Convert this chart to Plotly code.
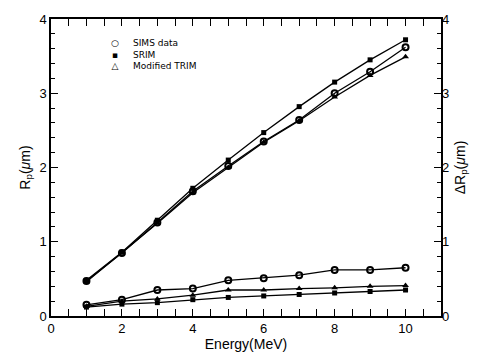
import plotly.graph_objects as go

energy = [1, 2, 3, 4, 5, 6, 7, 8, 9, 10]

# Projected range Rp (um)
rp_sims = [0.47, 0.85, 1.26, 1.68, 2.02, 2.35, 2.64, 3.00, 3.29, 3.62]
rp_srim = [0.48, 0.86, 1.29, 1.72, 2.10, 2.47, 2.82, 3.15, 3.45, 3.72]
rp_trim = [0.46, 0.85, 1.25, 1.66, 2.00, 2.34, 2.63, 2.95, 3.24, 3.49]

# Range straggling dRp (um)
drp_sims = [0.15, 0.22, 0.35, 0.37, 0.48, 0.51, 0.55, 0.62, 0.62, 0.65]
drp_srim = [0.12, 0.16, 0.18, 0.22, 0.25, 0.27, 0.29, 0.31, 0.33, 0.35]
drp_trim = [0.13, 0.20, 0.23, 0.28, 0.35, 0.35, 0.37, 0.38, 0.40, 0.41]

legend_names = ["SIMS data", "SRIM", "Modified TRIM"]
legend_symbols = ["○", "▪", "△"]

fig = go.Figure()
line = dict(color="black", width=1.3)
mk_c = dict(symbol="circle-open", size=6, color="black", line=dict(width=2, color="black"))
mk_s = dict(symbol="square", size=5, color="black")
mk_t = dict(symbol="triangle-up", size=6, color="black")

for ys, mk in [(rp_srim, mk_s), (rp_sims, mk_c), (rp_trim, mk_t)]:
    fig.add_trace(go.Scatter(x=energy, y=ys, mode="lines+markers", line=line,
                             marker=mk, showlegend=False, yaxis="y"))
for ys, mk in [(drp_sims, mk_c), (drp_trim, mk_t), (drp_srim, mk_s)]:
    fig.add_trace(go.Scatter(x=energy, y=ys, mode="lines+markers", line=line,
                             marker=mk, showlegend=False, yaxis="y2"))

# Legend drawn as two text blocks in paper coordinates
leg_font = dict(size=9, family="DejaVu Sans", color="black")
fig.add_annotation(xref="paper", yref="paper", x=0.164, y=0.879,
                   text="<br>".join(legend_symbols), showarrow=False,
                   xanchor="center", yanchor="middle", align="center",
                   borderpad=0, font=leg_font)
fig.add_annotation(xref="paper", yref="paper", x=0.207, y=0.879,
                   text="<br>".join(legend_names), showarrow=False,
                   xanchor="left", yanchor="middle", align="left",
                   borderpad=0, font=leg_font)

font = dict(family="Liberation Sans, Arial, sans-serif", color="black", size=13)
fig.update_layout(
    width=485, height=362,
    margin=dict(l=51, r=44, t=14, b=42),
    paper_bgcolor="white", plot_bgcolor="white",
    font=font,
    showlegend=False,
    xaxis=dict(range=[0, 11], tickvals=[0, 2, 4, 6, 8, 10], ticks="inside", ticklen=7,
               tickwidth=1.2, tickcolor="black", showline=True, linecolor="black", linewidth=1.5,
               mirror="allticks", showgrid=False, zeroline=False,
               minor=dict(dtick=0.5, ticks="inside", ticklen=4, tickcolor="black", showgrid=False),
               title=dict(text="Energy(MeV)", font=dict(size=14), standoff=4)),
    yaxis=dict(range=[0, 4], tickvals=[0, 1, 2, 3, 4], ticks="inside", ticklen=7,
               tickwidth=1.2, tickcolor="black", showline=True, linecolor="black", linewidth=1.5,
               mirror=True, showgrid=False, zeroline=False,
               minor=dict(dtick=0.2, ticks="inside", ticklen=4, tickcolor="black", showgrid=False),
               title=dict(text="R<sub>p</sub>(<i>μ</i>m)", font=dict(size=14), standoff=6)),
    yaxis2=dict(range=[0, 4], tickvals=[0, 1, 2, 3, 4], overlaying="y", side="right",
                ticks="inside", ticklen=7, tickwidth=1.2, tickcolor="black",
                showline=False, showgrid=False, zeroline=False,
                minor=dict(dtick=0.2, ticks="inside", ticklen=4, tickcolor="black", showgrid=False),
                title=dict(text="ΔR<sub>p</sub>(<i>μ</i>m)", font=dict(size=14), standoff=6)),
)

fig.write_html("out.html")
